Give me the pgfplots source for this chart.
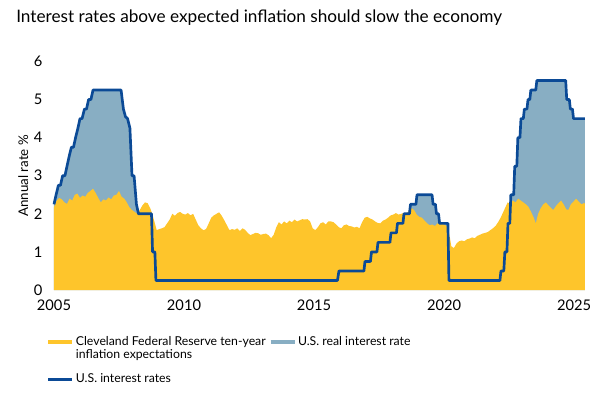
\documentclass[border=0pt]{standalone}
\usepackage{fontspec}
\setmainfont{Lato}
\usepackage{pgfplots}
\pgfplotsset{compat=1.18}
\usepackage{pgfplotstable}
\definecolor{infl}{HTML}{FEC52B}
\definecolor{real}{HTML}{88AEC3}
\definecolor{fedc}{HTML}{0B4A96}

\pgfplotstableread{
t r
2005.00 2.25
2005.08 2.50
2005.17 2.75
2005.25 2.75
2005.33 3.00
2005.42 3.00
2005.50 3.25
2005.58 3.50
2005.67 3.75
2005.75 3.75
2005.83 4.00
2005.92 4.25
2006.00 4.50
2006.08 4.50
2006.17 4.75
2006.25 4.75
2006.33 5.00
2006.42 5.00
2006.50 5.25
2007.58 5.25
2007.67 4.75
2007.75 4.55
2007.83 4.50
2007.92 4.25
2008.00 3.00
2008.08 3.00
2008.17 2.25
2008.25 2.00
2008.75 2.00
2008.79 1.00
2008.88 1.00
2008.92 0.25
2015.90 0.25
2015.96 0.50
2016.92 0.50
2016.96 0.75
2017.17 0.75
2017.21 1.00
2017.42 1.00
2017.46 1.25
2017.92 1.25
2017.96 1.50
2018.17 1.50
2018.21 1.75
2018.42 1.75
2018.46 2.00
2018.67 2.00
2018.71 2.25
2018.92 2.25
2018.96 2.50
2019.54 2.50
2019.58 2.25
2019.67 2.25
2019.71 2.00
2019.79 2.00
2019.83 1.75
2020.15 1.75
2020.19 0.25
2022.15 0.25
2022.19 0.50
2022.30 0.50
2022.34 1.00
2022.42 1.00
2022.46 1.75
2022.53 1.75
2022.57 2.50
2022.68 2.50
2022.72 3.25
2022.80 3.25
2022.84 4.00
2022.92 4.00
2022.96 4.50
2023.05 4.50
2023.09 4.75
2023.19 4.75
2023.23 5.00
2023.30 5.00
2023.34 5.25
2023.53 5.25
2023.57 5.50
2024.68 5.50
2024.72 5.00
2024.82 5.00
2024.86 4.75
2024.94 4.75
2024.98 4.50
2025.42 4.50
}\fedtab

\pgfplotstableread{
t v
2005.00 2.17
2005.10 2.35
2005.20 2.42
2005.30 2.38
2005.40 2.30
2005.50 2.26
2005.60 2.40
2005.70 2.35
2005.80 2.50
2005.90 2.53
2006.00 2.42
2006.10 2.48
2006.20 2.45
2006.30 2.55
2006.40 2.60
2006.50 2.66
2006.60 2.55
2006.70 2.42
2006.80 2.30
2006.90 2.38
2007.00 2.35
2007.10 2.43
2007.20 2.38
2007.30 2.48
2007.40 2.50
2007.50 2.60
2007.60 2.45
2007.70 2.40
2007.80 2.30
2007.90 2.17
2008.00 2.10
2008.10 2.05
2008.20 2.00
2008.30 2.10
2008.40 2.22
2008.50 2.30
2008.60 2.28
2008.70 2.15
2008.80 1.95
2008.90 1.70
2008.95 1.57
2009.05 1.60
2009.15 1.62
2009.25 1.65
2009.35 1.75
2009.45 1.85
2009.55 2.00
2009.65 1.95
2009.75 2.02
2009.85 2.05
2009.95 2.00
2010.05 1.98
2010.15 2.02
2010.25 1.96
2010.35 2.00
2010.45 1.85
2010.55 1.70
2010.65 1.62
2010.75 1.57
2010.85 1.60
2010.95 1.75
2011.05 1.90
2011.15 1.96
2011.25 2.00
2011.35 2.04
2011.45 1.95
2011.55 1.83
2011.65 1.70
2011.75 1.57
2011.85 1.60
2011.95 1.58
2012.05 1.62
2012.15 1.55
2012.25 1.62
2012.35 1.58
2012.45 1.50
2012.55 1.44
2012.65 1.47
2012.75 1.50
2012.85 1.49
2012.95 1.45
2013.05 1.47
2013.15 1.48
2013.25 1.44
2013.35 1.36
2013.45 1.45
2013.55 1.65
2013.65 1.78
2013.75 1.72
2013.85 1.80
2013.95 1.75
2014.05 1.82
2014.15 1.78
2014.25 1.85
2014.35 1.80
2014.45 1.83
2014.55 1.86
2014.65 1.85
2014.75 1.86
2014.85 1.80
2014.95 1.62
2015.05 1.57
2015.15 1.65
2015.25 1.75
2015.35 1.78
2015.45 1.72
2015.55 1.80
2015.65 1.80
2015.75 1.78
2015.85 1.72
2015.95 1.65
2016.05 1.62
2016.15 1.70
2016.25 1.72
2016.35 1.68
2016.45 1.67
2016.55 1.64
2016.65 1.66
2016.75 1.62
2016.85 1.78
2016.95 1.90
2017.05 1.92
2017.15 1.88
2017.25 1.85
2017.35 1.80
2017.45 1.76
2017.55 1.75
2017.65 1.82
2017.75 1.85
2017.85 1.90
2017.95 1.96
2018.05 1.98
2018.15 2.02
2018.25 1.98
2018.35 2.00
2018.45 2.02
2018.55 2.00
2018.65 2.08
2018.75 2.15
2018.85 2.10
2018.95 1.98
2019.05 1.92
2019.15 1.90
2019.25 1.82
2019.35 1.75
2019.45 1.70
2019.55 1.72
2019.65 1.68
2019.75 1.75
2019.85 1.72
2019.95 1.74
2020.05 1.70
2020.15 1.65
2020.22 1.40
2020.28 1.15
2020.38 1.10
2020.48 1.22
2020.58 1.28
2020.68 1.30
2020.78 1.28
2020.88 1.33
2020.98 1.35
2021.08 1.38
2021.18 1.36
2021.28 1.42
2021.38 1.45
2021.48 1.48
2021.58 1.50
2021.68 1.52
2021.78 1.57
2021.88 1.62
2021.98 1.68
2022.08 1.78
2022.18 1.90
2022.28 2.05
2022.38 2.20
2022.45 2.30
2022.55 2.25
2022.65 2.35
2022.75 2.30
2022.85 2.40
2022.95 2.35
2023.05 2.30
2023.15 2.25
2023.25 2.18
2023.35 2.05
2023.45 1.90
2023.53 1.75
2023.62 2.00
2023.72 2.15
2023.82 2.25
2023.92 2.30
2024.02 2.22
2024.12 2.15
2024.20 2.10
2024.30 2.20
2024.40 2.28
2024.50 2.35
2024.60 2.25
2024.70 2.12
2024.78 2.10
2024.88 2.25
2024.98 2.32
2025.08 2.40
2025.18 2.32
2025.28 2.25
2025.38 2.28
2025.42 2.27
}\infltab

\begin{document}
\begin{tikzpicture}
\path[use as bounding box] (-40.5pt,-78pt) rectangle (411pt,217.5pt);
\node[anchor=base west, inner sep=0pt, font=\fontsize{12.9}{15}\selectfont] at (-28.5pt,201pt) {Interest rates above expected inflation should slow the economy};
\begin{axis}[
  at={(0,0)}, anchor=south west,
  scale only axis, width=398.2pt, height=171.4pt,
  xmin=2005, xmax=2025.42, ymin=0, ymax=6,
  axis line style={draw=none},
  major tick length=0pt,
  xtick={2005,2010,2015,2020,2025},
  xticklabels={2005,2010,2015,2020,2025},
  ytick={0,1,2,3,4,5,6},
  /pgf/number format/assume math mode=true,
  tick label style={font=\fontsize{11}{13}\selectfont},
  xticklabel style={anchor=base, yshift=-15pt},
  yticklabel style={anchor=east, inner sep=0pt, xshift=-8.5pt},
  ylabel={Annual rate \%},
  every axis y label/.style={at={(axis description cs:-0.058,0.5)}, rotate=90, anchor=center, font=\fontsize{10}{12}\selectfont},
  legend columns=2,
  legend style={at={(axis description cs:-0.015,-0.195)}, anchor=north west, draw=none, fill=none,
    inner sep=0pt, row sep=18pt, font=\fontsize{9.2}{9.2}\selectfont, nodes={inner sep=1pt}},
  legend cell align=left,
  /tikz/every even column/.append style={column sep=1pt},
  clip=false,
]
\addplot[fill=real, draw=none, forget plot] table[x=t,y=r] {\fedtab} \closedcycle;
\addplot[fill=infl, draw=none, forget plot] table[x=t,y=v] {\infltab} \closedcycle;
\addplot[fedc, line width=2pt, line join=round, forget plot] table[x=t,y=r] {\fedtab};
\addlegendimage{legend image code/.code={\draw[infl, line width=3.2pt] (0pt,0pt) -- (18pt,0pt);}}
\addlegendentry{\begin{tabular}[t]{@{}l@{}}Cleveland Federal Reserve ten-year\\[0.5pt]inflation expectations\end{tabular}}
\addlegendimage{legend image code/.code={\draw[real, line width=3.2pt] (0pt,0pt) -- (18pt,0pt);}}
\addlegendentry{U.S. real interest rate}
\addlegendimage{legend image code/.code={\draw[fedc, line width=2.2pt] (0pt,0pt) -- (18pt,0pt);}}
\addlegendentry{U.S. interest rates}
\end{axis}
\end{tikzpicture}
\end{document}
